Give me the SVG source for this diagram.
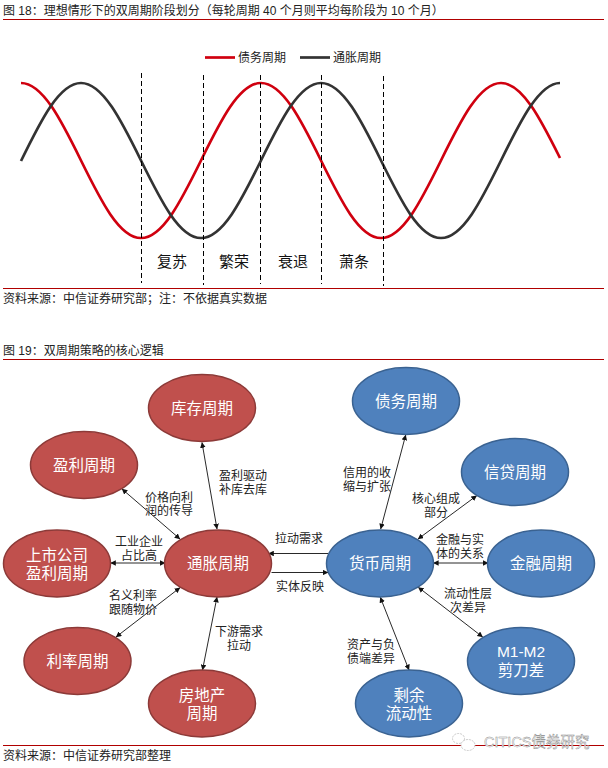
<svg xmlns="http://www.w3.org/2000/svg" width="608" height="768" viewBox="0 0 608 768">
<defs>
<style>
text{font-family:"Liberation Sans","Noto Sans CJK SC",sans-serif;fill:#222}
.h{font-size:12px}
.l{font-size:12px;text-anchor:middle}
.p{font-size:15px;text-anchor:middle;fill:#111}
.n{font-size:15.5px;text-anchor:middle;fill:#fff}
.rule{stroke:#B00000;stroke-width:1.1;fill:none}
.dash{stroke:#000;stroke-width:1;stroke-dasharray:5 3;fill:none}
.red{fill:#C0504D;stroke:#8C3A38;stroke-width:1.5}
.blue{fill:#4F81BD;stroke:#3A6291;stroke-width:1.5}
.c{stroke:#111;stroke-width:.9;fill:none;marker-start:url(#a);marker-end:url(#a)}
.o{stroke:#111;stroke-width:.9;fill:none;marker-end:url(#a)}
.cr{fill:none;stroke:#D0000F;stroke-width:2.7}
.cb{fill:none;stroke:#333;stroke-width:2.7}
.wm{fill:none;stroke:#bbb;stroke-width:.8;stroke-dasharray:2 1}
</style>
<marker id="a" viewBox="0 0 10 10" refX="9.5" refY="5" markerWidth="5.6" markerHeight="5.6" markerUnits="userSpaceOnUse" orient="auto-start-reverse"><path d="M0 0L10 5L0 10Z" fill="#111"/></marker>
</defs>
<rect width="608" height="768" fill="#fff"/>
<g id="fig18">
<text class="h" x="3" y="15">图 18：理想情形下的双周期阶段划分（每轮周期 40 个月则平均每阶段为 10 个月）</text>
<path class="rule" d="M3 19.5H604M3 288.5H604"/>
<path class="cr" d="M205 57.5H235"/>
<text class="h" x="238" y="62">债务周期</text>
<path class="cb" d="M300 57.5H330"/>
<text class="h" x="333" y="62">通胀周期</text>
<path class="cr" d="M21,83C42.71,83 61.43,120.8 81,160.5C100.57,200.2 119.29,238 141,238C162.71,238 181.43,200.2 201,160.5C220.57,120.8 239.29,83 261,83C282.71,83 301.43,120.8 321,160.5C340.57,200.2 359.29,238 381,238C402.71,238 421.43,200.2 441,160.5C460.57,120.8 479.29,83 501,83C522.71,83 541.43,120.8 560,158"/>
<path class="cb" d="M21,161C40.57,120.8 59.29,83 81,83C102.71,83 121.43,120.8 141,160.5C160.57,200.2 179.29,238 201,238C222.71,238 241.43,200.2 261,160.5C280.57,120.8 299.29,83 321,83C342.71,83 361.43,120.8 381,160.5C400.57,200.2 419.29,238 441,238C462.71,238 481.43,200.2 501,160.5C520.57,120.8 539.29,83 560,83"/>
<path class="dash" d="M141.5 73V283M203.5 75V285M260.5 75V284M321.5 75V284M383.5 76V286"/>
<text class="p" x="172" y="267">复苏</text>
<text class="p" x="234" y="267">繁荣</text>
<text class="p" x="293" y="267">衰退</text>
<text class="p" x="354" y="267">萧条</text>
<text class="h" x="3" y="303">资料来源：中信证券研究部；注：不依据真实数据</text>
</g>
<text class="h" x="3" y="355">图 19：双周期策略的核心逻辑</text>
<path class="rule" d="M3 359.5H604M3 745.5H604"/>
<g id="connectors">
<path class="c" d="M202 442.5L217 529"/>
<path class="c" d="M122 489L180 539"/>
<path class="c" d="M110.5 563H165"/>
<path class="c" d="M116 637L180 587.7"/>
<path class="c" d="M202.5 670L217 597"/>
<path class="o" d="M328 553.5H268.5"/>
<path class="o" d="M271.5 572.5H328"/>
<path class="c" d="M405.7 435L380.7 529"/>
<path class="c" d="M476.7 495.7L418 539"/>
<path class="c" d="M433.3 563H488"/>
<path class="c" d="M418.3 587.3L482.7 637"/>
<path class="c" d="M380.3 597.3L409 670"/>
</g>
<g id="labels">
<text class="l" x="243" y="479.5">盈利驱动</text><text class="l" x="243" y="493.5">补库去库</text>
<text class="l" x="169" y="501.5">价格向利</text><text class="l" x="169" y="515">润的传导</text>
<text class="l" x="139" y="545.5">工业企业</text><text class="l" x="139" y="559.5">占比高</text>
<text class="l" x="299" y="542.5">拉动需求</text><text class="l" x="300" y="591">实体反映</text>
<text class="l" x="133" y="600">名义利率</text><text class="l" x="133" y="614">跟随物价</text>
<text class="l" x="239" y="635.5">下游需求</text><text class="l" x="239" y="649.5">拉动</text>
<text class="l" x="367" y="476.5">信用的收</text><text class="l" x="367" y="491">缩与扩张</text>
<text class="l" x="436" y="502.5">核心组成</text><text class="l" x="436" y="516.5">部分</text>
<text class="l" x="460" y="543.5">金融与实</text><text class="l" x="460" y="557.5">体的关系</text>
<text class="l" x="468" y="598">流动性层</text><text class="l" x="468" y="612">次差异</text>
<text class="l" x="371" y="648.5">资产与负</text><text class="l" x="371" y="662.5">债端差异</text>
</g>
<g id="n-kucun"><ellipse class="red" cx="202" cy="408" rx="53.5" ry="33.5"/><text class="n" x="202" y="413.5">库存周期</text></g>
<g id="n-yingli"><ellipse class="red" cx="84" cy="465" rx="53.5" ry="33.5"/><text class="n" x="84" y="470.5">盈利周期</text></g>
<g id="n-shangshi"><ellipse class="red" cx="57" cy="563.5" rx="53.5" ry="33.5"/><text class="n" x="57" y="560.5">上市公司</text><text class="n" x="57" y="578.5">盈利周期</text></g>
<g id="n-tongzhang"><ellipse class="red" cx="218" cy="563.5" rx="53.5" ry="33.5"/><text class="n" x="218" y="569">通胀周期</text></g>
<g id="n-lilv"><ellipse class="red" cx="77.5" cy="661" rx="53.5" ry="33.5"/><text class="n" x="77.5" y="666.5">利率周期</text></g>
<g id="n-fangdichan"><ellipse class="red" cx="202" cy="703.5" rx="53.5" ry="33.5"/><text class="n" x="202" y="700.5">房地产</text><text class="n" x="202" y="718.5">周期</text></g>
<g id="n-zhaiwu"><ellipse class="blue" cx="406" cy="401" rx="53.5" ry="33.5"/><text class="n" x="406" y="406.5">债务周期</text></g>
<g id="n-xindai"><ellipse class="blue" cx="515" cy="472" rx="53.5" ry="33.5"/><text class="n" x="515" y="477.5">信贷周期</text></g>
<g id="n-huobi"><ellipse class="blue" cx="380" cy="563.5" rx="53.5" ry="33.5"/><text class="n" x="380" y="569">货币周期</text></g>
<g id="n-jinrong"><ellipse class="blue" cx="541" cy="563.5" rx="53.5" ry="33.5"/><text class="n" x="541" y="569">金融周期</text></g>
<g id="n-m1m2"><ellipse class="blue" cx="521" cy="661" rx="53.5" ry="33.5"/><text class="n" x="521" y="657">M1-M2</text><text class="n" x="521" y="675.5">剪刀差</text></g>
<g id="n-shengyu"><ellipse class="blue" cx="409" cy="703.5" rx="53.5" ry="33.5"/><text class="n" x="409" y="700.5">剩余</text><text class="n" x="409" y="718.5">流动性</text></g>
<text class="h" x="3" y="760">资料来源：中信证券研究部整理</text>
<g id="watermark">
<ellipse cx="458.5" cy="738.5" rx="6" ry="5" fill="#fff" class="wm"/>
<ellipse cx="468" cy="745" rx="7" ry="5.5" fill="#fff" class="wm" style="fill:#fff"/>
<text x="484" y="747" font-size="14.5" style="fill:#fff;stroke:#888;stroke-width:.45">CITICS债券研究</text>
</g>
</svg>
